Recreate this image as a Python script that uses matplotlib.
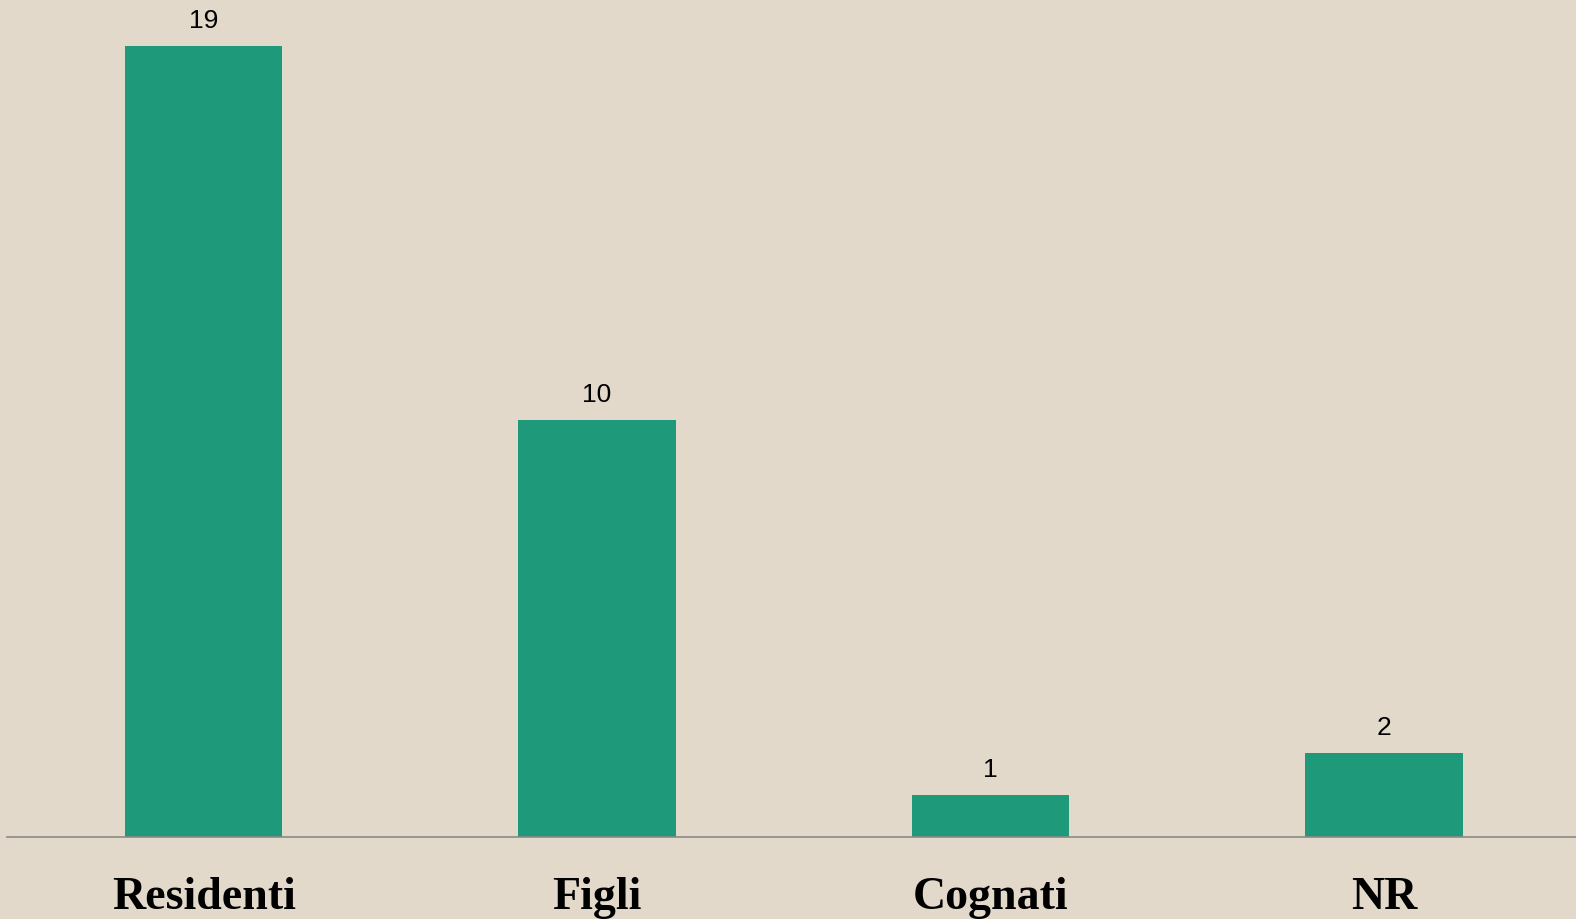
import matplotlib
matplotlib.use("Agg")
import matplotlib.pyplot as plt

# dati
categorie = ["Residenti", "Figli", "Cognati", "NR"]
valori    = [19, 10, 1, 2]

BG    = "#e2d9ca"
VERDE = "#1e9a7a"

fig = plt.figure(figsize=(15.76, 9.19), dpi=100)
fig.patch.set_facecolor(BG)
ax = fig.add_axes([0.0044, 0.0895, 0.9956, 0.9105])
ax.set_facecolor(BG)

x = range(len(categorie))
bars = ax.bar(x, valori, width=0.4, color=VERDE, zorder=2)

for b, v in zip(bars, valori):
    ax.annotate(str(v), (b.get_x() + b.get_width() / 2, b.get_height()),
                xytext=(0, 18), textcoords="offset points",
                ha="center", va="center", fontsize=19,
                family="Liberation Sans", color="black")

ax.set_xlim(-0.5, 3.488)
ax.set_ylim(0, 20.1)
ax.set_yticks([])
ax.set_xticks(list(x))
ax.set_xticklabels(categorie, fontsize=33, fontweight="bold",
                   family="Liberation Serif")
ax.tick_params(axis="x", length=0, pad=29)

for s in ["top", "right", "left"]:
    ax.spines[s].set_visible(False)
ax.spines["bottom"].set_color("#8a8a8a")
ax.spines["bottom"].set_linewidth(1.2)

fig.savefig("out.png", dpi=100, facecolor=BG)
